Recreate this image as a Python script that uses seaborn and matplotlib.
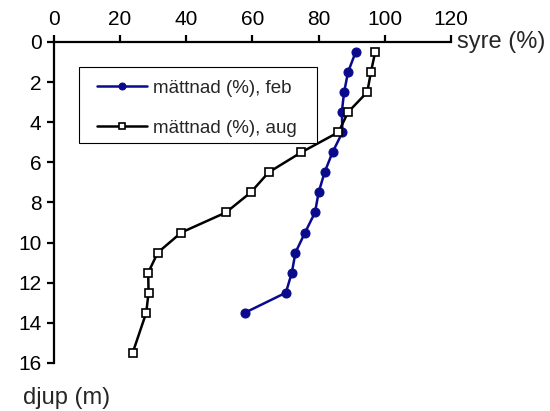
import seaborn as sns
import matplotlib.pyplot as plt
from matplotlib.patches import Rectangle
import pandas as pd

# depth (m) of each sample
depth_feb = [0.5, 1.5, 2.5, 3.5, 4.5, 5.5, 6.5, 7.5, 8.5, 9.5, 10.5, 11.5, 12.5, 13.5]
depth_aug = [0.5, 1.5, 2.5, 3.5, 4.5, 5.5, 6.5, 7.5, 8.5, 9.5, 10.5, 11.5, 12.5, 13.5, 15.5]

# oxygen saturation (%)
syre_feb = [91.2, 88.9, 87.7, 87.0, 87.2, 84.2, 81.8, 80.0, 78.9, 75.9, 73.0, 71.9, 70.1, 57.7]
syre_aug = [97.1, 95.8, 94.7, 88.9, 86.0, 74.8, 64.9, 59.5, 52.0, 38.5, 31.4, 28.5, 28.6, 27.9, 23.8]

x_ticks = [0, 20, 40, 60, 80, 100, 120]
y_ticks = [0, 2, 4, 6, 8, 10, 12, 14, 16]

df_feb = pd.DataFrame({'syre': syre_feb, 'djup': depth_feb})
df_aug = pd.DataFrame({'syre': syre_aug, 'djup': depth_aug})

sns.set_style('white')
plt.rcParams['font.family'] = ['Liberation Sans', 'DejaVu Sans']

fig = plt.figure(figsize=(5.5, 4.11), dpi=100)
ax = fig.add_axes([0.098, 0.117, 0.722, 0.781])

sns.lineplot(data=df_feb, x='syre', y='djup', sort=False, ax=ax, color='#0a0a8c',
             linewidth=1.8, marker='o', markersize=6.5, markeredgecolor='#0a0a8c',
             label='mättnad (%), feb')
sns.lineplot(data=df_aug, x='syre', y='djup', sort=False, ax=ax, color='black',
             linewidth=1.8, marker='s', markersize=5.5, markerfacecolor='white',
             markeredgecolor='black', markeredgewidth=1.2, label='mättnad (%), aug')

ax.set_xlim(0, 120)
ax.set_ylim(16, 0)
ax.set_xticks(x_ticks)
ax.set_yticks(y_ticks)
ax.xaxis.tick_top()
ax.set_xlabel('')
ax.set_ylabel('')

for side in ['right', 'bottom']:
    ax.spines[side].set_visible(False)
for side in ['left', 'top']:
    ax.spines[side].set_linewidth(1.6)
    ax.spines[side].set_color('black')

ax.tick_params(axis='both', direction='out', length=5, width=1.6, labelsize=15,
               colors='black', pad=4)
ax.tick_params(axis='x', top=True, bottom=False)
ax.tick_params(axis='y', left=True)

ax.text(1.015, 1.0, 'syre (%)', transform=ax.transAxes, fontsize=17,
        ha='left', va='center')
ax.text(-0.078, -0.109, 'djup (m)', transform=ax.transAxes, fontsize=17,
        ha='left', va='center')

# legend frame drawn by hand: Excel pads it more at the sides than top/bottom
ax.add_patch(Rectangle((0.063, 0.684), 0.599, 0.239, transform=ax.transAxes,
                       facecolor='white', edgecolor='black', linewidth=0.8, zorder=4))
leg = ax.legend(loc='upper left', bbox_to_anchor=(0.1076, 0.882), fontsize=13.5,
                frameon=False, handlelength=2.7, handletextpad=0.3, borderpad=0,
                labelspacing=1.2, borderaxespad=0)
leg.set_zorder(5)
for h in leg.get_lines():
    h.set_markersize(5)

fig.savefig('out.png', dpi=100)
